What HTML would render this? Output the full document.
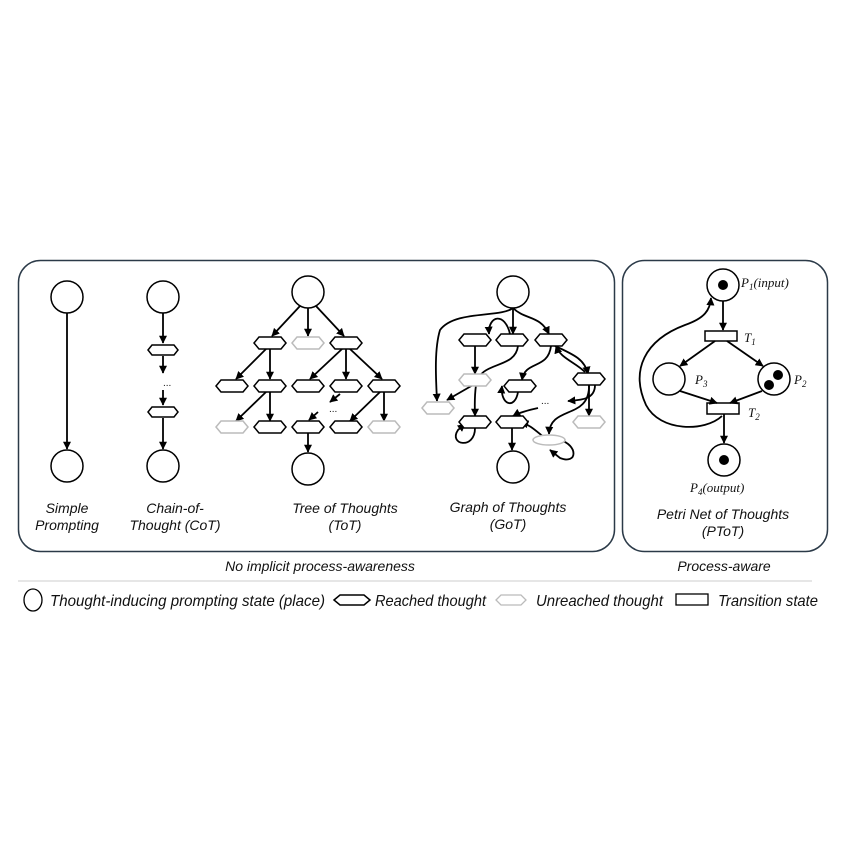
<!DOCTYPE html>
<html><head><meta charset="utf-8"><style>
html,body{margin:0;padding:0;background:#fff}
svg{display:block}
text{font-family:"Liberation Sans",sans-serif;font-style:italic;font-size:14px;fill:#111}
.m{font-family:"Liberation Serif",serif;font-style:italic;font-size:13px}
.lg{font-size:16px}
</style></head><body>
<svg width="852" height="861" viewBox="0 0 852 861" xmlns="http://www.w3.org/2000/svg">
<defs>
<marker id="a" viewBox="0 0 10 10" refX="9" refY="5" markerWidth="4.5" markerHeight="4.5" orient="auto"><path d="M0,0 L10,5 L0,10 z" fill="#000"/></marker>
</defs>
<rect x="18.5" y="260.5" width="596" height="291" rx="22" fill="none" stroke="#2b3a48" stroke-width="1.5"/>
<rect x="622.5" y="260.5" width="205" height="291" rx="22" fill="none" stroke="#2b3a48" stroke-width="1.5"/>
<g fill="#fff" stroke="#000" stroke-width="1.5">
<circle cx="67" cy="297" r="16"/><circle cx="67" cy="466" r="16"/>
<circle cx="163" cy="297" r="16"/><circle cx="163" cy="466" r="16"/>
<circle cx="308" cy="292" r="16"/><circle cx="308" cy="469" r="16"/>
<circle cx="513" cy="292" r="16"/><circle cx="513" cy="467" r="16"/>
<circle cx="723" cy="285" r="16"/><circle cx="669" cy="379" r="16"/><circle cx="774" cy="379" r="16"/><circle cx="724" cy="460" r="16"/>
<rect x="705" y="331" width="32" height="10"/><rect x="707" y="403" width="32" height="11"/>
</g>
<g fill="#000"><circle cx="723" cy="285" r="5"/><circle cx="724" cy="460" r="5"/><circle cx="778" cy="375" r="5"/><circle cx="769" cy="385" r="5"/></g>
<g stroke="#000" stroke-width="1.8" fill="none" marker-end="url(#a)">
<line x1="67" y1="313" x2="67" y2="449"/>
<line x1="163" y1="313" x2="163" y2="343"/><line x1="163" y1="356" x2="163" y2="373"/>
<line x1="163" y1="390" x2="163" y2="405"/><line x1="163" y1="418" x2="163" y2="449"/>
<line x1="300" y1="306" x2="272" y2="336"/><line x1="308" y1="308" x2="308" y2="336"/><line x1="316" y1="306" x2="344" y2="336"/>
<line x1="266" y1="349" x2="236" y2="379"/><line x1="270" y1="349" x2="270" y2="379"/>
<line x1="342" y1="349" x2="310" y2="379"/><line x1="346" y1="349" x2="346" y2="379"/><line x1="350" y1="349" x2="382" y2="379"/>
<line x1="266" y1="392" x2="236" y2="421"/><line x1="270" y1="392" x2="270" y2="421"/>
<line x1="340" y1="394" x2="330" y2="402"/><line x1="318" y1="412" x2="309" y2="420"/>
<line x1="380" y1="392" x2="350" y2="421"/><line x1="384" y1="392" x2="384" y2="421"/>
<line x1="308" y1="433" x2="308" y2="452"/>
<!-- GoT -->
<path d="M513 308 C500 318 455 310 440 330 C434 350 436 380 437 401"/>
<line x1="513" y1="308" x2="513" y2="334"/>
<path d="M513 308 C525 320 540 315 549 334"/>
<path d="M510 334 C505 312 488 315 489 334"/>
<line x1="475" y1="346" x2="475" y2="374"/>
<line x1="473" y1="385" x2="447" y2="400"/>
<path d="M518 346 C515 370 480 360 476 385 C474 400 475 410 475 416"/>
<path d="M555 346 C575 355 585 360 588 374"/>
<path d="M585 372 C575 362 560 358 556 346"/>
<path d="M551 346 C548 370 525 360 522 380"/>
<path d="M518 392 C515 410 500 405 502 386" />
<path d="M595 385 C595 400 580 400 568 401"/>
<line x1="589" y1="385" x2="589" y2="416"/>
<path d="M538 408 C530 410 520 412 513 416"/>
<path d="M589 385 C590 420 550 405 549 434"/>
<path d="M545 438 C535 430 530 425 521 422"/>
<path d="M475 428 C475 450 448 445 458 430 L465 424"/>
<line x1="512" y1="428" x2="512" y2="450"/>
<path d="M560 440 C578 445 578 465 560 458 L550 450"/>
<!-- Petri -->
<line x1="723" y1="301" x2="723" y2="330"/>
<line x1="715" y1="341" x2="680" y2="366"/><line x1="727" y1="341" x2="763" y2="366"/>
<line x1="680" y1="391" x2="717" y2="403"/><line x1="762" y1="391" x2="730" y2="403"/>
<line x1="724" y1="414" x2="724" y2="443"/>
<path d="M722 416 C705 432 660 432 646 405 C630 370 645 340 685 325 C705 318 710 310 711 298"/>
</g>
<g stroke="#000" stroke-width="1.5" fill="#fff">
<polygon points="148,350 152,345 174,345 178,350 174,355 152,355"/>
<polygon points="148,412 152,407 174,407 178,412 174,417 152,417"/>
<polygon points="254,343 259,337 281,337 286,343 281,349 259,349"/>
<polygon points="330,343 335,337 357,337 362,343 357,349 335,349"/>
<polygon points="216,386 221,380 243,380 248,386 243,392 221,392"/>
<polygon points="254,386 259,380 281,380 286,386 281,392 259,392"/>
<polygon points="292,386 297,380 319,380 324,386 319,392 297,392"/>
<polygon points="330,386 335,380 357,380 362,386 357,392 335,392"/>
<polygon points="368,386 373,380 395,380 400,386 395,392 373,392"/>
<polygon points="254,427 259,421 281,421 286,427 281,433 259,433"/>
<polygon points="292,427 297,421 319,421 324,427 319,433 297,433"/>
<polygon points="330,427 335,421 357,421 362,427 357,433 335,433"/>
<polygon points="459,340 464,334 486,334 491,340 486,346 464,346"/>
<polygon points="496,340 501,334 523,334 528,340 523,346 501,346"/>
<polygon points="535,340 540,334 562,334 567,340 562,346 540,346"/>
<polygon points="504,386 509,380 531,380 536,386 531,392 509,392"/>
<polygon points="573,379 578,373 600,373 605,379 600,385 578,385"/>
<polygon points="459,422 464,416 486,416 491,422 486,428 464,428"/>
<polygon points="496,422 501,416 523,416 528,422 523,428 501,428"/>
</g>
<g stroke="#bbb" stroke-width="1.5" fill="#fff">
<polygon points="292,343 297,337 319,337 324,343 319,349 297,349"/>
<polygon points="216,427 221,421 243,421 248,427 243,433 221,433"/>
<polygon points="368,427 373,421 395,421 400,427 395,433 373,433"/>
<polygon points="459,380 464,374 486,374 491,380 486,386 464,386"/>
<polygon points="422,408 427,402 449,402 454,408 449,414 427,414"/>
<polygon points="573,422 578,416 600,416 605,422 600,428 578,428"/>
<ellipse cx="549" cy="440" rx="16" ry="5"/>
</g>
<text x="329" y="412" style="font-size:10px;font-style:normal">...</text>
<text x="163" y="386" style="font-size:10px;font-style:normal">...</text>
<text x="541" y="404" style="font-size:10px;font-style:normal">...</text>
<g text-anchor="middle">
<text x="67" y="513">Simple</text><text x="67" y="530">Prompting</text>
<text x="175" y="513">Chain-of-</text><text x="175" y="530">Thought (CoT)</text>
<text x="345" y="513">Tree of Thoughts</text><text x="345" y="530">(ToT)</text>
<text x="508" y="512">Graph of Thoughts</text><text x="508" y="529">(GoT)</text>
<text x="723" y="519">Petri Net of Thoughts</text><text x="723" y="536">(PToT)</text>
<text x="320" y="571">No implicit process-awareness</text>
<text x="724" y="571">Process-aware</text>
</g>
<text class="m" x="741" y="287">P<tspan font-size="9" dy="3">1</tspan><tspan dy="-3">(input)</tspan></text>
<text class="m" x="744" y="342">T<tspan font-size="9" dy="3">1</tspan></text>
<text class="m" x="695" y="384">P<tspan font-size="9" dy="3">3</tspan></text>
<text class="m" x="794" y="384">P<tspan font-size="9" dy="3">2</tspan></text>
<text class="m" x="748" y="417">T<tspan font-size="9" dy="3">2</tspan></text>
<text class="m" x="690" y="492">P<tspan font-size="9" dy="3">4</tspan><tspan dy="-3">(output)</tspan></text>
<line x1="18" y1="581" x2="812" y2="581" stroke="#ccc" stroke-width="1"/>
<ellipse cx="33" cy="600" rx="9" ry="11" fill="#fff" stroke="#000" stroke-width="1.3"/>
<text class="lg" x="50" y="606" textLength="275" lengthAdjust="spacingAndGlyphs">Thought-inducing prompting state (place)</text>
<polygon points="334,600 340,595 364,595 370,600 364,605 340,605" fill="#fff" stroke="#000" stroke-width="1.5"/>
<text class="lg" x="375" y="606" textLength="111" lengthAdjust="spacingAndGlyphs">Reached thought</text>
<polygon points="496,600 501,595 521,595 526,600 521,605 501,605" fill="#fff" stroke="#bbb" stroke-width="1.3"/>
<text class="lg" x="536" y="606" textLength="127" lengthAdjust="spacingAndGlyphs">Unreached thought</text>
<rect x="676" y="594" width="32" height="11" fill="#fff" stroke="#000" stroke-width="1.3"/>
<text class="lg" x="718" y="606" textLength="100" lengthAdjust="spacingAndGlyphs">Transition state</text>
</svg>
</body></html>
